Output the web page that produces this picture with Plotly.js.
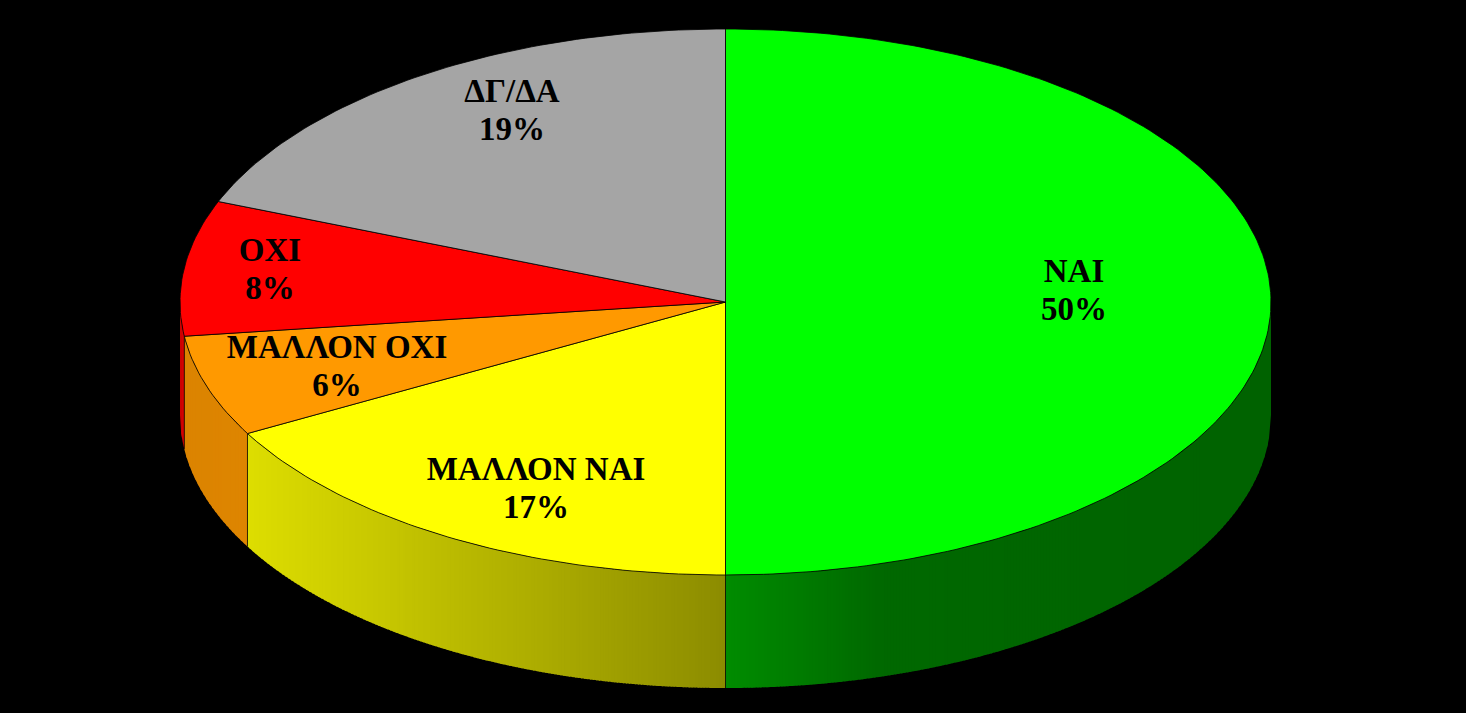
<!DOCTYPE html>
<html>
<head>
<meta charset="utf-8">
<script src="https://cdn.plot.ly/plotly-3.0.1.min.js"></script>
<style>html,body{margin:0;padding:0;background:#000;overflow:hidden}#chart{width:1466px;height:713px}</style>
</head>
<body>
<div id="chart"></div>
<script>
// ---- data (clockwise from 12 o'clock) ----
const categories = ["ΝΑΙ", "ΜΑΛΛΟΝ ΝΑΙ", "ΜΑΛΛΟΝ ΟΧΙ", "ΟΧΙ", "ΔΓ/ΔΑ"];
const shares = [50, 17, 6, 8, 19];

// ---- styling and placement ----
const topColors = [[0,255,0],[255,255,0],[255,153,0],[255,0,0],[165,165,165]];
const labelX = [1074, 536, 337, 270, 512];
const labelY = [274, 472, 350, 253, 94];
const labelGap = 37.5;
const CX = 725.5, CY = 302, RX = 545.5, RY = 273, DEPTH = 113;
const shadeStops = [[181,0.8],[184.5,0.86],[247,0.87],[725,0.55],[880,0.41],[1271,0.385]];
const stripWidth = 3;

const total = shares.reduce((a,b)=>a+b,0);
const px = f => CX + RX*Math.sin(2*Math.PI*f);
const py = f => CY - RY*Math.cos(2*Math.PI*f);
const rgb = (c,k) => `rgb(${c.map(v=>Math.round(v*k)).join(",")})`;
function shadeAt(x){
  for(let i=1;i<shadeStops.length;i++){
    const [x0,s0]=shadeStops[i-1],[x1,s1]=shadeStops[i];
    if(x<=x1) return s0+(s1-s0)*(x-x0)/(x1-x0);
  }
  return shadeStops[shadeStops.length-1][1];
}
const base = {type:"scatter",hoverinfo:"skip",showlegend:false};
const traces = [];

// slice boundaries as fractions of the whole
const bounds=[0];
shares.forEach(v=>bounds.push(bounds[bounds.length-1]+v/total));

// side wall: only the front half (fractions 0.25..0.75) shows
shares.forEach((v,i)=>{
  const a=Math.max(bounds[i],0.25), b=Math.min(bounds[i+1],0.75);
  if(b<=a) return;
  const xA=px(a), xB=px(b);
  const steps=Math.max(1,Math.ceil(Math.abs(xA-xB)/stripWidth));
  for(let s=0;s<steps;s++){
    const x0=xA+(xB-xA)*s/steps, x1=xA+(xB-xA)*(s+1)/steps;
    const x1o = s<steps-1 ? x1-1 : x1; // small overlap hides seams
    const xs=[],ys=[];
    const n=2;
    for(let k=0;k<=n;k++){
      const x=x0+(x1o-x0)*k/n;
      const t=Math.min(1,Math.abs((x-CX)/RX));
      xs.push(x); ys.push(CY+RY*Math.sqrt(1-t*t));
    }
    for(let k=n;k>=0;k--){
      const x=x0+(x1o-x0)*k/n;
      const t=Math.min(1,Math.abs((x-CX)/RX));
      xs.push(x); ys.push(CY+DEPTH+RY*Math.sqrt(1-t*t));
    }
    traces.push({...base,x:xs,y:ys,mode:"none",fill:"toself",
      fillcolor:rgb(topColors[i],shadeAt((x0+x1)/2))});
  }
});

// wall edges between slices
bounds.forEach(f=>{
  if(f>0.25 && f<0.75){
    traces.push({...base,x:[px(f),px(f)],y:[py(f),py(f)+DEPTH],mode:"lines",
      line:{color:"rgba(0,0,0,0.7)",width:1}});
  }
});

// top face slices
shares.forEach((v,i)=>{
  const a=bounds[i], b=bounds[i+1];
  const n=Math.max(8,Math.ceil((b-a)*360));
  const xs=[CX], ys=[CY];
  for(let k=0;k<=n;k++){
    const f=a+(b-a)*k/n;
    xs.push(px(f)); ys.push(py(f));
  }
  xs.push(CX); ys.push(CY);
  traces.push({...base,x:xs,y:ys,mode:"lines",fill:"toself",
    fillcolor:rgb(topColors[i],1),line:{color:"rgba(0,0,0,0.8)",width:1}});
});

// labels: name line and percentage line
traces.push({...base,x:labelX,y:labelY,mode:"text",text:categories,textposition:"middle center",
  textfont:{family:"Liberation Serif",size:33,color:"#000",weight:700}});
traces.push({...base,x:labelX,y:labelY.map(y=>y+labelGap),mode:"text",
  text:shares.map(v=>v+"%"),textposition:"middle center",
  textfont:{family:"Liberation Serif",size:33,color:"#000",weight:700}});

const layout={
  width:1466,height:713,margin:{l:0,r:0,t:0,b:0},
  paper_bgcolor:"#000",plot_bgcolor:"#000",showlegend:false,hovermode:false,
  xaxis:{range:[0,1466],visible:false,fixedrange:true},
  yaxis:{range:[713,0],visible:false,fixedrange:true}
};
Plotly.newPlot("chart",traces,layout,{displayModeBar:false,staticPlot:true});
</script>
</body>
</html>
